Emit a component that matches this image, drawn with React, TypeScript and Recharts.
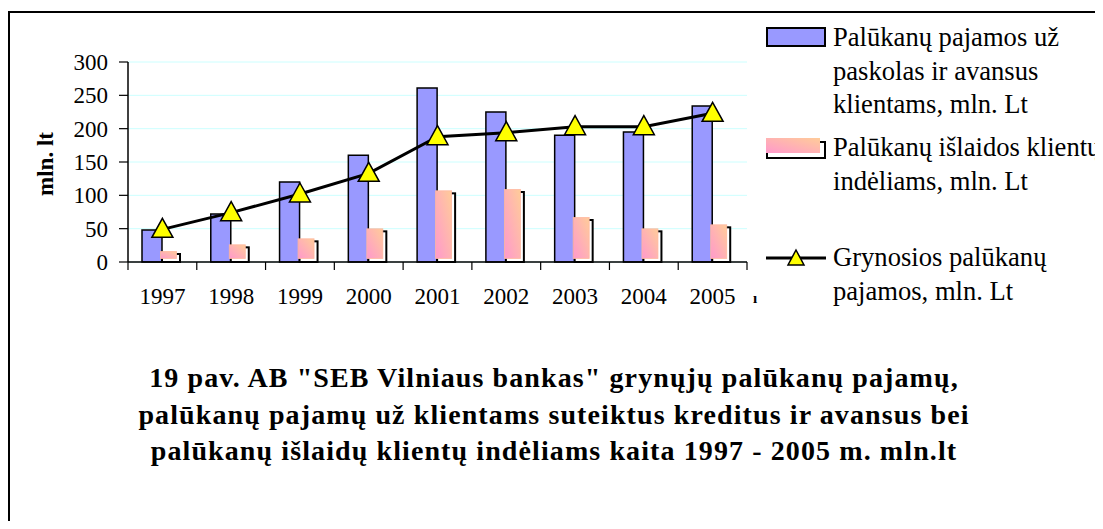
import React from 'react';
import { Bar, CartesianGrid, ComposedChart, Legend, Line, XAxis, YAxis } from 'recharts';

// values, mln. Lt
const YEARS = ['1997', '1998', '1999', '2000', '2001', '2002', '2003', '2004', '2005'];
const LOAN_INCOME = [48, 72, 120, 160, 261, 225, 190, 195, 234];
const DEPOSIT_COST = [12, 22, 31, 46, 103, 105, 63, 46, 52];
const NET_INCOME = [49, 74, 102, 133, 188, 194, 203, 203, 223];
const Y_TICKS = [0, 50, 100, 150, 200, 250, 300];

const LOAN_NAME = 'Palūkanų pajamos už paskolas ir avansus klientams, mln. Lt';
const DEPOSIT_NAME = 'Palūkanų išlaidos klientų indėliams, mln. Lt';
const NET_NAME = 'Grynosios palūkanų pajamos, mln. Lt';

const LOAN_LEGEND = ['Palūkanų pajamos už', 'paskolas ir avansus', 'klientams, mln. Lt'];
const DEPOSIT_LEGEND = ['Palūkanų išlaidos klientų', 'indėliams, mln. Lt'];
const NET_LEGEND = ['Grynosios palūkanų', 'pajamos, mln. Lt'];

const Y_LABEL = 'mln. lt';
const TITLE_LINES = [
  '19 pav. AB "SEB Vilniaus bankas" grynųjų palūkanų pajamų,',
  'palūkanų pajamų už klientams suteiktus kreditus ir avansus bei',
  'palūkanų išlaidų klientų indėliams kaita 1997 - 2005 m. mln.lt',
];

const FONT = '"Liberation Serif", "Times New Roman", serif';
const BLUE = '#9999ff';

const chartData = YEARS.map((year, i) => ({
  year,
  loan: LOAN_INCOME[i],
  deposit: DEPOSIT_COST[i],
  net: NET_INCOME[i],
}));

const DepositBar = (props: any) => {
  const { x, y, width, height } = props;
  if (!height || height <= 0) return null;
  return (
    <g>
      <rect x={x} y={y} width={width - 2} height={height} fill="#fff" stroke="#000" strokeWidth={2} />
      <rect x={x - 1.5} y={y - 2.5} width={width - 4} height={height - 1} fill="url(#depositFill)" stroke="#ffb8a0" strokeWidth={0.8} />
    </g>
  );
};

const TriangleDot = (props: any) => {
  const { cx, cy } = props;
  if (cx == null || cy == null) return null;
  return (
    <path
      d={`M${cx},${cy - 11} L${cx + 10.5},${cy + 8} L${cx - 10.5},${cy + 8} Z`}
      fill="#ffff00"
      stroke="#000"
      strokeWidth={1.5}
    />
  );
};

const YearTick = (props: any) => {
  const { x, y, width, payload, index } = props;
  const axisW = typeof width === 'number' ? width : 619;
  const step = axisW / YEARS.length;
  return (
    <g>
      <line x1={x - step / 2} y1={y} x2={x - step / 2} y2={y + 8} stroke="#000" strokeWidth={1.2} />
      {index === YEARS.length - 1 && (
        <line x1={x + step / 2} y1={y} x2={x + step / 2} y2={y + 8} stroke="#000" strokeWidth={1.2} />
      )}
      <text x={x} y={y + 42} textAnchor="middle" fontSize={23} fontFamily={FONT} fill="#000">
        {payload.value}
      </text>
    </g>
  );
};

const YLabel = (props: any) => {
  const { viewBox } = props;
  const cx = viewBox.x + 37;
  const cy = viewBox.y + viewBox.height / 2 + 2;
  return (
    <text
      x={cx}
      y={cy}
      transform={`rotate(-90 ${cx} ${cy})`}
      textAnchor="middle"
      dominantBaseline="central"
      fontSize={23}
      fontWeight="bold"
      fontFamily={FONT}
      fill="#000"
    >
      {Y_LABEL}
    </text>
  );
};

const XMark = (props: any) => {
  const { viewBox } = props;
  return (
    <text x={viewBox.x + viewBox.width + 6} y={viewBox.y + 41} fontSize={15} fontWeight="bold" fontFamily={FONT} fill="#000">
      ı
    </text>
  );
};

const legendText: React.CSSProperties = {
  marginLeft: 7,
  fontSize: 26.6,
  lineHeight: '33.5px',
  whiteSpace: 'nowrap',
  color: '#000',
  fontFamily: FONT,
};

const LegendBlock = () => (
  <div style={{ position: 'relative', width: 337, height: 310 }}>
    <div style={{ position: 'absolute', top: 0, left: 0, display: 'flex' }}>
      <svg width={60} height={34}>
        <rect x={1} y={7} width={58} height={18} fill={BLUE} stroke="#000" strokeWidth={2} />
      </svg>
      <div style={legendText}>
        {LOAN_LEGEND.map((l) => (
          <div key={l}>{l}</div>
        ))}
      </div>
    </div>
    <div style={{ position: 'absolute', top: 110, left: 0, display: 'flex' }}>
      <svg width={60} height={34}>
        <defs>
          <linearGradient id="depositLegendFill" x1="1" y1="0" x2="0" y2="1">
            <stop offset="0%" stopColor="#ffcc99" />
            <stop offset="100%" stopColor="#ff99cc" />
          </linearGradient>
        </defs>
        <rect x={1} y={11} width={58} height={16} fill="#fff" stroke="#000" strokeWidth={2} />
        <rect x={0} y={7} width={54} height={15} fill="url(#depositLegendFill)" />
      </svg>
      <div style={legendText}>
        {DEPOSIT_LEGEND.map((l) => (
          <div key={l}>{l}</div>
        ))}
      </div>
    </div>
    <div style={{ position: 'absolute', top: 220, left: 0, display: 'flex' }}>
      <svg width={60} height={34}>
        <line x1={0} y1={17} x2={60} y2={17} stroke="#000" strokeWidth={3} />
        <path d="M30,9 L38,24 L22,24 Z" fill="#ffff00" stroke="#000" strokeWidth={1.5} />
      </svg>
      <div style={legendText}>
        {NET_LEGEND.map((l) => (
          <div key={l}>{l}</div>
        ))}
      </div>
    </div>
  </div>
);

export default function App() {
  return (
    <div style={{ position: 'relative', width: 1095, height: 513, overflow: 'hidden', fontFamily: FONT }}>
      <div
        style={{
          position: 'absolute',
          left: 0,
          top: 3,
          width: 1300,
          height: 800,
          borderTop: '2px solid #000',
          borderLeft: '2px solid #000',
        }}
      />
      <div style={{ position: 'absolute', left: 0, top: 0 }}>
        <ComposedChart
          width={1095}
          height={320}
          data={chartData}
          margin={{ top: 54, right: 356, bottom: 26, left: 0 }}
          barGap={0}
          barCategoryGap="21%"
        >
          <defs>
            <linearGradient id="depositFill" x1="1" y1="0" x2="0" y2="1">
              <stop offset="0%" stopColor="#ffcc99" />
              <stop offset="100%" stopColor="#ff99cc" />
            </linearGradient>
          </defs>
          <CartesianGrid vertical={false} stroke="#ccffff" strokeWidth={1} />
          <XAxis
            dataKey="year"
            height={40}
            tickSize={0}
            tickMargin={0}
            tickLine={false}
            axisLine={{ stroke: '#000', strokeWidth: 1.5 }}
            tick={<YearTick />}
            interval={0}
            label={<XMark />}
          />
          <YAxis
            width={120}
            domain={[0, 300]}
            ticks={Y_TICKS}
            interval={0}
            tickSize={9}
            tickMargin={11}
            axisLine={{ stroke: '#000', strokeWidth: 1.5 }}
            tickLine={{ stroke: '#000', strokeWidth: 1.2 }}
            tick={{ fill: '#000', fontSize: 23, fontFamily: FONT }}
            label={<YLabel />}
          />
          <Legend
            layout="vertical"
            align="center"
            verticalAlign="middle"
            wrapperStyle={{ left: 758, top: 13, width: 337 }}
            content={<LegendBlock />}
          />
          <Bar
            dataKey="loan"
            name={LOAN_NAME}
            barSize={20}
            fill={BLUE}
            stroke="#000"
            strokeWidth={1.5}
            isAnimationActive={false}
          />
          <Bar
            dataKey="deposit"
            name={DEPOSIT_NAME}
            barSize={20}
            shape={<DepositBar />}
            isAnimationActive={false}
          />
          <Line
            dataKey="net"
            name={NET_NAME}
            type="linear"
            stroke="#000"
            strokeWidth={3}
            dot={<TriangleDot />}
            activeDot={false}
            isAnimationActive={false}
          />
        </ComposedChart>
      </div>
      <div
        style={{
          position: 'absolute',
          left: 0,
          top: 352,
          width: 1092,
          textAlign: 'center',
          fontSize: 28,
          lineHeight: '36.5px',
          fontWeight: 'bold',
          letterSpacing: 1.1,
          color: '#000',
        }}
      >
        {TITLE_LINES.map((l) => (
          <div key={l}>{l}</div>
        ))}
      </div>
    </div>
  );
}
